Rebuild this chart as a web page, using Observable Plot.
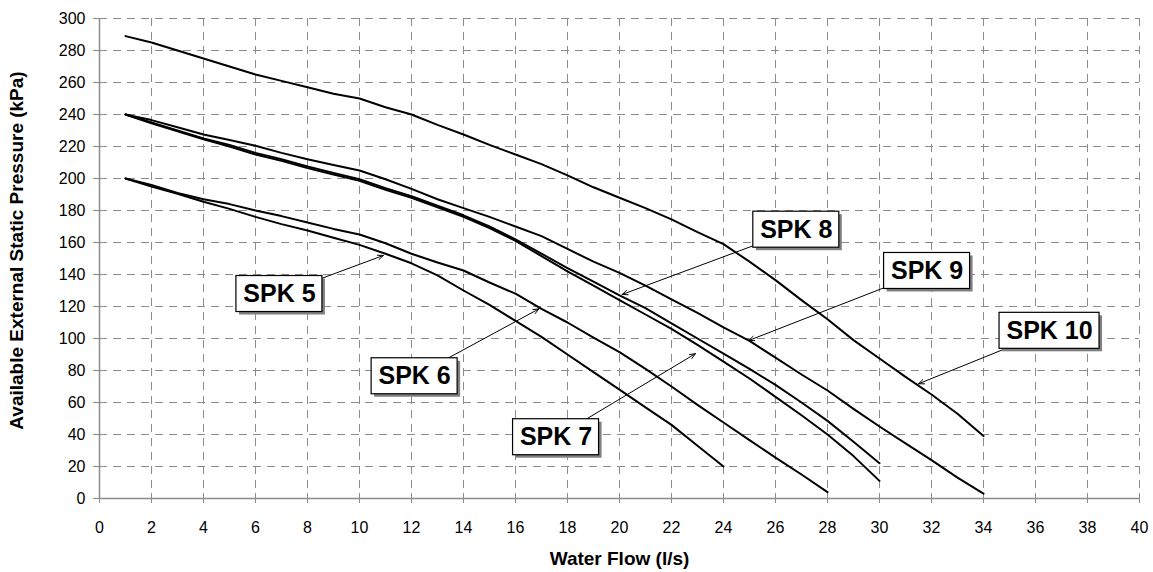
<!DOCTYPE html>
<html>
<head>
<meta charset="utf-8">
<script src="https://cdn.jsdelivr.net/npm/d3@7"></script>
<script src="https://cdn.jsdelivr.net/npm/@observablehq/plot@0.6"></script>
<style>
  html, body { margin: 0; padding: 0; background: #ffffff; }
  #chart { width: 1153px; height: 572px; }
</style>
</head>
<body>
<div id="chart"></div>
<script>
// ---- Data ----
const xTicks = [0,2,4,6,8,10,12,14,16,18,20,22,24,26,28,30,32,34,36,38,40];
const yTicks = [0,20,40,60,80,100,120,140,160,180,200,220,240,260,280,300];

const spk5Flow = [1,2,3,4,5,6,7,8,9,10,11,12,13,14,15,16,17,18,19,20,21,22,23,24];
const spk5Pressure = [200,195,190.5,185.5,181,176,171.5,167.5,163,158.5,153,147,139.5,130,121,111,101,90,79,68,57,46,33,20];

const spk6Flow = [1,2,3,4,5,6,7,8,9,10,11,12,13,14,15,16,17,18,19,20,21,22,23,24,25,26,27,28];
const spk6Pressure = [200,196,191,187,184,180,176.5,172.5,168.5,165,159.5,153,147.5,142.5,135,128,118.5,110,100.5,91.5,81,70,58.5,47.5,36.5,25.5,15,4];

const spk7Flow = [1,2,3,4,5,6,7,8,9,10,11,12,13,14,15,16,17,18,19,20,21,22,23,24,25,26,27,28,29,30];
const spk7Pressure = [240,234.5,229.5,224.5,220,215,211,206.5,202.5,198.5,193,188,182,176,169,161,151.5,142,133,124,115,106,96,85.5,75,63.5,52,40,26.5,11];

const spk8Flow = [1,2,3,4,5,6,7,8,9,10,11,12,13,14,15,16,17,18,19,20,21,22,23,24,25,26,27,28,29,30];
const spk8Pressure = [240,235,230,225,221,216,212,207.5,203.5,199.5,194,189,183,177,170,162,153,144,135.5,127,119,109.5,100,90.5,81,71,60,48.5,35.5,22];

const spk9Flow = [1,2,3,4,5,6,7,8,9,10,11,12,13,14,15,16,17,18,19,20,21,22,23,24,25,26,27,28,29,30,31,32,33,34];
const spk9Pressure = [240,236.5,232,227.5,224,220.5,216,212,208.5,205,199.5,193.5,187,181.5,176,170,164,156,148,141,133,124.5,116,107,98.5,88,77.5,67.5,56,45,34.5,24,13,3];

const spk10Flow = [1,2,3,4,5,6,7,8,9,10,11,12,13,14,15,16,17,18,19,20,21,22,23,24,25,26,27,28,29,30,31,32,33,34];
const spk10Pressure = [289,285,280,275,270,265,261,257,253,250,244.5,240,233.5,227.5,221,215,209,202,194.5,188,181.5,174.5,166.5,159,148,136.5,124,112,99,87.5,76,65,53,39];

// Callout labels: box centre and arrow target (data units)
const labelNames = ["SPK 5","SPK 6","SPK 7","SPK 8","SPK 9","SPK 10"];
const labelFlow = [6.92, 12.12, 17.56, 26.8, 31.83, 36.54];
const labelPressure = [127.8, 76.4, 38.3, 168, 142.2, 104.8];
const arrowFlow = [10.92, 16.9, 22.92, 20.1, 24.97, 31.5];
const arrowPressure = [151.9, 118.5, 90.5, 127.5, 98.75, 71.7];

const xTitle = "Water Flow (l/s)";
const yTitle = "Available External Static Pressure (kPa)";

// ---- Build tables ----
const seriesDefs = [
  ["SPK 5", spk5Flow, spk5Pressure],
  ["SPK 6", spk6Flow, spk6Pressure],
  ["SPK 7", spk7Flow, spk7Pressure],
  ["SPK 8", spk8Flow, spk8Pressure],
  ["SPK 9", spk9Flow, spk9Pressure],
  ["SPK 10", spk10Flow, spk10Pressure]
];
const curves = seriesDefs.flatMap(([name, fx, py]) => fx.map((f, i) => ({series: name, flow: f, pressure: py[i]})));
const callouts = labelNames.map((n, i) => ({name: n, x: labelFlow[i], y: labelPressure[i], ax: arrowFlow[i], ay: arrowPressure[i]}));
const shortCallouts = callouts.filter(d => d.name.length <= 5);
const longCallouts = callouts.filter(d => d.name.length > 5);

const gridColor = "#8c8c8c";
const axisColor = "#8c8c8c";

function boxMarks(data, halfW, halfH) {
  return [
    Plot.rect(data, {x1: "x", x2: "x", y1: "y", y2: "y",
      insetLeft: -halfW, insetRight: -halfW, insetTop: -halfH, insetBottom: -halfH,
      fill: "#808080", dx: 3, dy: 3}),
    Plot.rect(data, {x1: "x", x2: "x", y1: "y", y2: "y",
      insetLeft: -halfW, insetRight: -halfW, insetTop: -halfH, insetBottom: -halfH,
      fill: "white", stroke: "black", strokeWidth: 1.2})
  ];
}

const chart = Plot.plot({
  width: 1153,
  height: 572,
  marginLeft: 99,
  marginRight: 14,
  marginTop: 18,
  marginBottom: 74,
  style: {fontFamily: "'Liberation Sans', Arial, sans-serif", fontSize: "16px", background: "white", color: "black"},
  x: {domain: [0, 40], label: null},
  y: {domain: [0, 300], label: null},
  marks: [
    // grid
    Plot.ruleX(xTicks.filter(d => d > 0), {stroke: gridColor, strokeWidth: 1, strokeDasharray: "8,6"}),
    Plot.ruleY(yTicks.filter(d => d > 0), {stroke: gridColor, strokeWidth: 1, strokeDasharray: "8,6"}),
    // axis lines
    Plot.ruleX([0], {stroke: axisColor, strokeWidth: 1.5}),
    Plot.ruleY([0], {stroke: axisColor, strokeWidth: 1.5}),
    // ticks
    Plot.axisY(yTicks, {tickSize: 6, stroke: axisColor, tickFormat: () => "", label: null}),
    Plot.axisX(xTicks, {tickSize: 10, dy: -5, stroke: axisColor, tickFormat: () => "", label: null}),
    // tick labels
    Plot.axisY(yTicks, {tickSize: 0, tickPadding: 14, fill: "black", fontSize: 16, label: null}),
    Plot.axisX(xTicks, {tickSize: 0, tickPadding: 23, fill: "black", fontSize: 16, label: null}),
    // axis titles
    Plot.text([xTitle], {frameAnchor: "bottom", dy: 60, fontSize: 19, fontWeight: "bold", fill: "black", lineAnchor: "middle"}),
    Plot.text([yTitle], {frameAnchor: "left", dx: -82.5, dy: -8, rotate: -90, fontSize: 19, fontWeight: "bold", fill: "black", lineAnchor: "middle", textAnchor: "middle"}),
    // curves
    Plot.line(curves, {x: "flow", y: "pressure", z: "series", stroke: "black", strokeWidth: 2}),
    // callout arrows
    Plot.arrow(callouts, {x1: "x", y1: "y", x2: "ax", y2: "ay", stroke: "black", strokeWidth: 1, headLength: 9, headAngle: 45}),
    // callout boxes
    ...boxMarks(shortCallouts, 43, 18),
    ...boxMarks(longCallouts, 50, 18),
    Plot.text(callouts, {x: "x", y: "y", text: "name", fontSize: 25, fontWeight: "bold", fill: "black", lineAnchor: "middle"})
  ]
});

document.getElementById("chart").appendChild(chart);
</script>
</body>
</html>
